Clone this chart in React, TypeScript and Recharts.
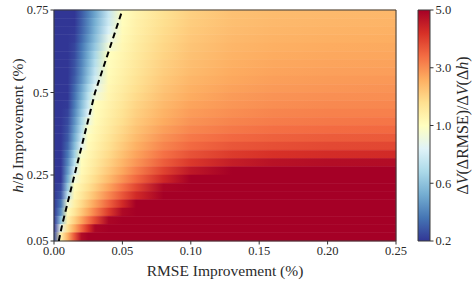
import React from 'react';
import { ComposedChart, XAxis, YAxis, Line, ReferenceArea } from 'recharts';

// RMSE improvement (%) sample columns
const X_COLS = [0, 0.005, 0.01, 0.015, 0.02, 0.025, 0.03, 0.04, 0.05, 0.06, 0.08, 0.1, 0.13, 0.16, 0.2, 0.25];
// h/b improvement (%) row centres (top -> bottom)
const ROW_Y = [0.7375, 0.7125, 0.6875, 0.6625, 0.6375, 0.6125, 0.5875, 0.5625, 0.5375, 0.5125, 0.4875, 0.4625, 0.4375, 0.4125, 0.3875, 0.3625, 0.3375, 0.3125, 0.2875, 0.2625, 0.2375, 0.2125, 0.1875, 0.1625, 0.1375, 0.1125, 0.0875, 0.0625];

const r7375 = [0.2, 0.2, 0.2, 0.2, 0.29, 0.39, 0.5, 0.76, 1.02, 1.3, 1.75, 2.05, 2.3, 2.38, 2.42, 2.45];
const r7125 = [0.2, 0.2, 0.2, 0.2, 0.3, 0.41, 0.53, 0.78, 1.05, 1.35, 1.8, 2.1, 2.33, 2.42, 2.47, 2.5];
const r6875 = [0.2, 0.2, 0.2, 0.21, 0.31, 0.42, 0.55, 0.82, 1.1, 1.4, 1.85, 2.15, 2.37, 2.47, 2.52, 2.55];
const r6625 = [0.2, 0.2, 0.2, 0.22, 0.33, 0.45, 0.58, 0.88, 1.15, 1.45, 1.9, 2.2, 2.42, 2.52, 2.57, 2.6];
const r6375 = [0.2, 0.2, 0.2, 0.24, 0.36, 0.49, 0.62, 0.93, 1.2, 1.5, 1.95, 2.25, 2.47, 2.57, 2.62, 2.65];
const r6125 = [0.2, 0.2, 0.2, 0.25, 0.38, 0.52, 0.67, 1.0, 1.27, 1.55, 2.0, 2.3, 2.52, 2.62, 2.67, 2.7];
const r5875 = [0.2, 0.2, 0.2, 0.27, 0.4, 0.55, 0.71, 1.04, 1.32, 1.6, 2.05, 2.35, 2.57, 2.67, 2.72, 2.75];
const r5625 = [0.2, 0.2, 0.2, 0.28, 0.42, 0.58, 0.75, 1.08, 1.37, 1.65, 2.1, 2.4, 2.62, 2.72, 2.77, 2.8];
const r5375 = [0.2, 0.2, 0.2, 0.3, 0.44, 0.61, 0.79, 1.13, 1.42, 1.72, 2.17, 2.47, 2.68, 2.78, 2.84, 2.87];
const r5125 = [0.2, 0.2, 0.2, 0.33, 0.49, 0.67, 0.86, 1.2, 1.5, 1.8, 2.25, 2.55, 2.75, 2.85, 2.9, 2.93];
const r4875 = [0.2, 0.2, 0.2, 0.35, 0.52, 0.72, 0.92, 1.26, 1.57, 1.88, 2.33, 2.63, 2.83, 2.93, 2.98, 3.0];
const r4625 = [0.2, 0.2, 0.21, 0.38, 0.57, 0.77, 1.0, 1.33, 1.65, 1.97, 2.42, 2.72, 2.9, 3.0, 3.05, 3.08];
const r4375 = [0.2, 0.2, 0.23, 0.41, 0.61, 0.83, 1.05, 1.4, 1.73, 2.05, 2.52, 2.82, 3.0, 3.1, 3.15, 3.17];
const r4125 = [0.2, 0.2, 0.25, 0.44, 0.66, 0.9, 1.1, 1.47, 1.82, 2.15, 2.63, 2.93, 3.12, 3.22, 3.27, 3.3];
const r3875 = [0.2, 0.2, 0.27, 0.48, 0.71, 0.97, 1.17, 1.55, 1.92, 2.27, 2.77, 3.08, 3.27, 3.37, 3.42, 3.45];
const r3625 = [0.2, 0.2, 0.29, 0.52, 0.77, 1.03, 1.24, 1.64, 2.03, 2.4, 2.93, 3.26, 3.46, 3.56, 3.62, 3.65];
const r3375 = [0.2, 0.2, 0.32, 0.57, 0.85, 1.1, 1.32, 1.75, 2.15, 2.55, 3.1, 3.45, 3.7, 3.8, 3.87, 3.9];
const r3125 = [0.2, 0.2, 0.37, 0.64, 0.97, 1.2, 1.43, 1.88, 2.32, 2.72, 3.35, 3.75, 4.05, 4.2, 4.27, 4.3];
const r2875 = [0.2, 0.2, 0.41, 0.72, 1.05, 1.3, 1.55, 2.02, 2.48, 2.9, 3.6, 4.1, 4.5, 4.7, 4.78, 4.8];
const r2625 = [0.2, 0.2, 0.46, 0.81, 1.14, 1.4, 1.67, 2.18, 2.68, 3.15, 3.95, 4.6, 5.1, 5.3, 5.3, 5.3];
const r2375 = [0.2, 0.2, 0.52, 0.92, 1.25, 1.55, 1.85, 2.4, 2.95, 3.45, 4.35, 5.0, 5.5, 5.6, 5.6, 5.6];
const r2125 = [0.2, 0.24, 0.62, 1.07, 1.42, 1.75, 2.08, 2.72, 3.32, 3.9, 4.9, 5.6, 6, 6, 6, 6];
const r1875 = [0.2, 0.28, 0.73, 1.2, 1.6, 1.97, 2.35, 3.05, 3.7, 4.3, 5.3, 6, 6, 6, 6, 6];
const r1625 = [0.2, 0.36, 0.93, 1.42, 1.88, 2.32, 2.75, 3.55, 4.3, 5.0, 6, 6, 6, 6, 6, 6];
const r1375 = [0.2, 0.44, 1.1, 1.65, 2.17, 2.68, 3.15, 4.05, 4.85, 5.6, 6, 6, 6, 6, 6, 6];
const r1125 = [0.2, 0.6, 1.38, 2.05, 2.7, 3.3, 3.85, 4.9, 5.8, 6, 6, 6, 6, 6, 6, 6];
const r0875 = [0.2, 0.88, 1.8, 2.65, 3.45, 4.2, 4.9, 6, 6, 6, 6, 6, 6, 6, 6, 6];
const r0625 = [0.25, 1.3, 2.55, 3.7, 4.8, 5.8, 6, 6, 6, 6, 6, 6, 6, 6, 6, 6];

const ROWS = [r7375, r7125, r6875, r6625, r6375, r6125, r5875, r5625, r5375, r5125, r4875, r4625, r4375, r4125, r3875, r3625, r3375, r3125, r2875, r2625, r2375, r2125, r1875, r1625, r1375, r1125, r0875, r0625];

// ratio = 1 contour (dashed)
const CONTOUR_X = [0.0035, 0.006, 0.009, 0.012, 0.015, 0.018, 0.021, 0.024, 0.027, 0.03, 0.034, 0.038, 0.042, 0.046, 0.05];
const CONTOUR_Y = [0.05, 0.1, 0.15, 0.2, 0.25, 0.3, 0.35, 0.4, 0.45, 0.5, 0.55, 0.6, 0.65, 0.7, 0.75];

const X_TICKS = [0, 0.05, 0.1, 0.15, 0.2, 0.25];
const Y_TICKS = [0.05, 0.25, 0.5, 0.75];
const Y_TICK_LABELS = ['0.05', '0.25', '0.5', '0.75'];
const CB_TICKS = [0.2, 0.6, 1.0, 3.0, 5.0];
const CB_TICK_LABELS = ['0.2', '0.6', '1.0', '3.0', '5.0'];
const V_MIN = 0.2;
const V_CENTER = 1.0;
const V_MAX = 5.0;

const PALETTE = ['#313695', '#4575b4', '#74add1', '#abd9e9', '#e0f3f8', '#ffffbf', '#fee090', '#fdae61', '#f46d43', '#d73027', '#a50026'];

const FONT = "'Liberation Serif', 'DejaVu Serif', serif";
const TXT = '#2a2a2a';

function norm(v: number): number {
  const t = v <= V_CENTER ? 0.5 * (v - V_MIN) / (V_CENTER - V_MIN) : 0.5 + 0.5 * (v - V_CENTER) / (V_MAX - V_CENTER);
  return Math.max(0, Math.min(1, t));
}
function hex(c: string) {
  return [parseInt(c.slice(1, 3), 16), parseInt(c.slice(3, 5), 16), parseInt(c.slice(5, 7), 16)];
}
function cmap(t: number): string {
  const p = t * (PALETTE.length - 1);
  const i = Math.min(PALETTE.length - 2, Math.floor(p));
  const f = p - i;
  const a = hex(PALETTE[i]);
  const b = hex(PALETTE[i + 1]);
  const c = a.map((av, k) => Math.round(av + (b[k] - av) * f));
  return `rgb(${c[0]},${c[1]},${c[2]})`;
}

const X_MIN = X_COLS[0];
const X_MAX = X_COLS[X_COLS.length - 1];
const Y_MIN = 0.05;
const Y_MAX = 0.75;

const contourData = CONTOUR_X.map((x, i) => ({ x, y: CONTOUR_Y[i] }));
const cbData = [{ x: 0, y: 0 }, { x: 1, y: 1 }];

function rowEdges(i: number): [number, number] {
  const c = ROW_Y[i];
  const hi = i === 0 ? Y_MAX : (ROW_Y[i - 1] + c) / 2;
  const lo = i === ROW_Y.length - 1 ? Y_MIN : (ROW_Y[i + 1] + c) / 2;
  return [lo, hi];
}

function XTitle(props: any) {
  const vb = props.viewBox || {};
  return (
    <text x={vb.x + vb.width / 2} y={vb.y + 35} textAnchor="middle" fontSize={15.5} fontFamily={FONT} fill={TXT}>
      RMSE Improvement (%)
    </text>
  );
}

function YTitle(props: any) {
  const vb = props.viewBox || {};
  const cx = 17;
  const cy = vb.y + vb.height / 2;
  return (
    <text x={cx} y={cy} transform={`rotate(-90 ${cx} ${cy})`} textAnchor="middle" dominantBaseline="central" fontSize={15.5} fontFamily={FONT} fill={TXT}>
      <tspan fontStyle="italic">h</tspan>
      <tspan>/</tspan>
      <tspan fontStyle="italic">b</tspan>
      <tspan> Improvement (%)</tspan>
    </text>
  );
}

function CbTitle(props: any) {
  const vb = props.viewBox || {};
  const cx = 56;
  const cy = vb.y + vb.height / 2;
  return (
    <text x={cx} y={cy} transform={`rotate(-90 ${cx} ${cy})`} textAnchor="middle" dominantBaseline="central" fontSize={16} fontFamily={FONT} fill={TXT}>
      <tspan>Δ</tspan>
      <tspan fontStyle="italic">V</tspan>
      <tspan>(ΔRMSE)/Δ</tspan>
      <tspan fontStyle="italic">V</tspan>
      <tspan>(Δ</tspan>
      <tspan fontStyle="italic">h</tspan>
      <tspan>)</tspan>
    </text>
  );
}

const tickStyle = { fontSize: 12.5, fontFamily: FONT, fill: TXT };

export default function App() {
  const cbNormTicks = CB_TICKS.map(norm);
  return (
    <div style={{ position: 'absolute', left: 0, top: 0, width: 476, height: 284, background: '#fff' }}>
      <div style={{ position: 'absolute', left: 0, top: 0 }}>
        <ComposedChart width={476} height={284} margin={{ top: 10, right: 80, bottom: 0, left: 0 }}>
          <defs>
            {ROWS.map((row, i) => (
              <linearGradient key={i} id={`rowg${i}`} x1="0" y1="0" x2="1" y2="0">
                {row.map((v, j) => (
                  <stop key={j} offset={(X_COLS[j] - X_MIN) / (X_MAX - X_MIN)} stopColor={cmap(norm(v))} />
                ))}
              </linearGradient>
            ))}
          </defs>
          <XAxis
            type="number"
            dataKey="x"
            domain={[X_MIN, X_MAX]}
            ticks={X_TICKS}
            tickFormatter={(v: number) => v.toFixed(2)}
            allowDataOverflow
            axisLine={false}
            tickLine={{ stroke: '#333' }}
            tickSize={3.5}
            tick={tickStyle}
            height={43}
            label={{ content: XTitle }}
          />
          <YAxis
            type="number"
            dataKey="y"
            domain={[Y_MIN, Y_MAX]}
            ticks={Y_TICKS}
            tickFormatter={(v: number) => Y_TICK_LABELS[Y_TICKS.indexOf(v)] ?? String(v)}
            allowDataOverflow
            axisLine={false}
            tickLine={{ stroke: '#333' }}
            tickSize={3.5}
            tick={tickStyle}
            width={54}
            label={{ content: YTitle }}
          />
          {ROWS.map((row, i) => {
            const [lo, hi] = rowEdges(i);
            return (
              <ReferenceArea
                key={i}
                x1={X_MIN}
                x2={X_MAX}
                y1={lo}
                y2={hi}
                fill={`url(#rowg${i})`}
                fillOpacity={1}
                stroke={`url(#rowg${i})`}
                strokeWidth={0.6}
              />
            );
          })}
          <Line
            data={contourData}
            dataKey="y"
            type="linear"
            stroke="#000"
            strokeWidth={2}
            strokeDasharray="6 4"
            dot={false}
            isAnimationActive={false}
          />
          <ReferenceArea x1={X_MIN} x2={X_MAX} y1={Y_MIN} y2={Y_MAX} fill="none" stroke="#3a3a3a" strokeWidth={1} />
        </ComposedChart>
      </div>
      <div style={{ position: 'absolute', left: 406, top: 0 }}>
        <ComposedChart width={70} height={284} data={cbData} margin={{ top: 10, right: 0, bottom: 43, left: 12 }}>
          <defs>
            <linearGradient id="cbgrad" x1="0" y1="1" x2="0" y2="0">
              {PALETTE.map((c, i) => (
                <stop key={i} offset={i / (PALETTE.length - 1)} stopColor={c} />
              ))}
            </linearGradient>
          </defs>
          <XAxis type="number" dataKey="x" domain={[0, 1]} hide />
          <YAxis
            type="number"
            dataKey="y"
            orientation="right"
            domain={[0, 1]}
            ticks={cbNormTicks}
            tickFormatter={(v: number) => {
              const k = cbNormTicks.findIndex((t) => Math.abs(t - v) < 1e-9);
              return k >= 0 ? CB_TICK_LABELS[k] : '';
            }}
            allowDataOverflow
            axisLine={false}
            tickLine={{ stroke: '#333' }}
            tickSize={3.5}
            tick={{ ...tickStyle, textAnchor: 'start' }}
            width={46}
            label={{ content: CbTitle }}
          />
          <ReferenceArea x1={0} x2={1} y1={0} y2={1} fill="url(#cbgrad)" fillOpacity={1} stroke="#3a3a3a" strokeWidth={1} />
        </ComposedChart>
      </div>
    </div>
  );
}
